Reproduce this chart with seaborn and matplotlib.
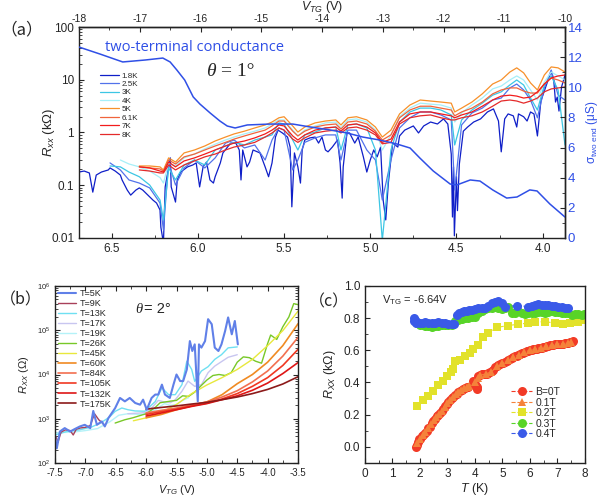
import matplotlib
matplotlib.use("Agg")
import matplotlib.pyplot as plt
import seaborn as sns
from matplotlib.ticker import MultipleLocator, FixedLocator, LogLocator, NullFormatter

# ================= panel (a) data =================
# two-terminal conductance vs top axis V_TG
vtg_top = [-18.0, -17.65, -17.28, -16.91, -16.62, -16.50, -16.39, -16.26, -16.12, -16.01,
           -15.84, -15.68, -15.56, -15.43, -15.23, -14.86, -14.48, -14.20, -13.87, -13.59,
           -13.33, -13.05, -12.77, -12.55, -12.39, -12.17, -11.89, -11.78, -11.56, -11.40,
           -11.19, -10.96, -10.79, -10.58, -10.46, -10.25, -10.0]
sigma_2t = [12.67, 12.2, 11.68, 11.81, 11.94, 11.68, 11.15, 10.48, 9.36, 8.89,
            8.29, 7.76, 7.43, 7.30, 7.50, 7.56, 7.56, 7.37, 7.17, 6.97,
            6.70, 6.50, 6.24, 5.97, 5.31, 4.45, 3.58, 3.52, 3.85, 3.78,
            3.19, 2.65, 2.72, 3.19, 3.12, 2.26, 1.39]

v18 = [6.69, 6.66, 6.63, 6.61, 6.59, 6.56, 6.52, 6.51, 6.48, 6.45,
       6.44, 6.41, 6.39, 6.36, 6.34, 6.32, 6.29, 6.26, 6.24, 6.22,
       6.215, 6.20, 6.19, 6.16, 6.155, 6.13, 6.12, 6.10, 6.06, 6.03,
       6.01, 5.99, 5.97, 5.95, 5.93, 5.91, 5.90, 5.87, 5.855, 5.81,
       5.78, 5.76, 5.75, 5.74, 5.715, 5.70, 5.68, 5.64, 5.61, 5.59,
       5.57, 5.55, 5.535, 5.51, 5.48, 5.465, 5.455, 5.44, 5.42, 5.405,
       5.395, 5.38, 5.35, 5.32, 5.30, 5.28, 5.26, 5.245, 5.22, 5.19,
       5.175, 5.163, 5.157, 5.135, 5.12, 5.09, 5.07, 5.04, 5.02, 5.00,
       4.98, 4.96, 4.94, 4.925, 4.91, 4.895, 4.87, 4.84, 4.83, 4.80,
       4.75, 4.72, 4.69, 4.65, 4.61, 4.575, 4.55, 4.53, 4.523, 4.517,
       4.512, 4.50, 4.494, 4.483, 4.46, 4.435, 4.40, 4.36, 4.32, 4.285,
       4.256, 4.24, 4.22, 4.20, 4.17, 4.15, 4.14, 4.11, 4.09, 4.07,
       4.05, 4.03, 4.01, 3.97, 3.95, 3.935, 3.925, 3.915, 3.905, 3.89, 3.87]
r18 = [0.178, 0.186, 0.171, 0.074, 0.156, 0.178, 0.195, 0.213, 0.186, 0.156,
       0.126, 0.081, 0.065, 0.081, 0.089, 0.081, 0.065, 0.052, 0.046, 0.034,
       0.016, 0.008, 0.093, 0.33, 0.093, 0.048, 0.126, 0.178, 0.223, 0.242,
       0.265, 0.093, 0.223, 0.275, 0.126, 0.11, 0.145, 0.265, 0.41, 0.63,
       0.63, 0.466, 0.126, 0.466, 0.223, 0.275, 0.466, 0.41, 0.223, 0.145,
       0.265, 0.82, 1.11, 0.98, 0.82, 0.53, 0.039, 0.41, 0.223, 0.11,
       0.466, 0.72, 0.79, 0.82, 0.63, 0.82, 0.466, 0.43, 0.53, 0.72,
       0.265, 0.057, 0.223, 0.98, 0.98, 0.63, 0.82, 0.345, 0.178, 0.301,
       0.466, 0.345, 0.53, 0.052, 0.022, 0.11, 0.63, 0.53, 0.86, 1.11,
       1.33, 0.98, 1.33, 1.58, 1.45, 1.81, 1.45, 0.39, 0.025, 0.223,
       0.011, 0.145, 0.033, 0.253, 1.06, 1.27, 1.58, 1.81, 2.45, 2.8,
       1.65, 0.43, 1.81, 2.25, 2.07, 1.27, 2.25, 1.99, 1.65, 2.45,
       2.25, 0.86, 3.95, 9.5, 14.6, 9.5, 3.78, 4.7, 2.55, 7.3, 12.3]

v_warm = [6.34, 6.28, 6.22, 6.20, 6.17, 6.13, 6.08, 6.02, 5.96, 5.90,
          5.84, 5.79, 5.73, 5.67, 5.61, 5.57, 5.53, 5.50, 5.45, 5.42,
          5.38, 5.32, 5.26, 5.20, 5.17, 5.13, 5.08, 5.02, 4.97, 4.93,
          4.88, 4.83, 4.77, 4.71, 4.65, 4.59, 4.53, 4.51, 4.47, 4.41,
          4.35, 4.29, 4.24, 4.19, 4.15, 4.11, 4.07, 4.03, 3.99, 3.95,
          3.91, 3.87]
v_cool_start = [6.51, 6.45, 6.40]
v_4k_start = [6.45, 6.40]

r25 = [0.265, 0.195, 0.126,
       0.11, 0.089, 0.046, 0.0142, 0.275, 0.101, 0.213, 0.301, 0.213, 0.33,
       0.63, 0.72, 0.51, 0.58, 0.301, 0.72, 1.22, 1.11, 0.195, 0.301,
       0.65, 0.79, 0.90, 0.90, 0.301, 1.11, 1.11, 0.466, 0.301, 0.0525,
       0.301, 1.22, 1.90, 2.45, 2.45, 2.15, 1.73, 0.0813, 1.39, 2.35,
       2.9, 4.13, 4.5, 7.0, 8.3, 6.4, 4.13, 1.90, 7.0, 15.3,
       5.1, 4.13]
r3 = [0.232, 0.223, 0.178,
      0.145, 0.101, 0.0525, 0.0219, 0.213, 0.126, 0.242, 0.301, 0.242, 0.466,
      0.555, 0.65, 0.58, 0.72, 0.82, 0.90, 1.52, 1.45, 0.72, 0.466,
      0.90, 1.02, 1.22, 1.27, 0.466, 1.39, 1.45, 1.22, 0.466, 0.009,
      0.466, 1.58, 2.45, 2.9, 2.9, 2.67, 2.15, 0.58, 1.73, 2.67,
      3.6, 5.1, 5.9, 7.95, 9.9, 7.95, 4.5, 2.67, 7.95, 11.8,
      6.4, 0.58]
r4 = [0.301, 0.253,
      0.223, 0.186, 0.14, 0.11, 0.265, 0.232, 0.33, 0.39, 0.49, 0.60,
      0.72, 0.82, 0.94, 1.06, 1.22, 1.45, 1.73, 1.73, 1.11, 0.86,
      1.11, 1.33, 1.52, 1.58, 1.22, 1.73, 1.81, 1.58, 1.11, 0.466,
      0.90, 1.99, 2.9, 3.6, 3.45, 3.32, 2.9, 1.58, 2.35, 3.32,
      4.5, 6.7, 7.6, 9.9, 11.8, 9.9, 6.4, 4.13, 9.0, 14.0,
      11.8, 9.9]
r5 = [0.232, 0.232, 0.223, 0.195, 0.33, 0.275, 0.41, 0.466, 0.555, 0.69,
      0.82, 0.94, 1.06, 1.22, 1.39, 1.58, 1.90, 1.99, 1.33, 1.02,
      1.27, 1.52, 1.65, 1.73, 1.39, 1.90, 1.99, 1.73, 1.27, 0.82,
      1.11, 2.25, 3.32, 4.13, 3.95, 3.78, 3.6, 2.45, 2.9, 3.78,
      5.4, 8.3, 9.9, 14.0, 16.8, 13.5, 8.7, 6.4, 12.3, 17.5,
      16.8, 14.0]
r61 = [0.223, 0.213, 0.204, 0.186, 0.301, 0.253, 0.345, 0.39, 0.466, 0.555,
       0.65, 0.75, 0.86, 0.98, 1.11, 1.33, 1.65, 1.65, 1.06, 0.86,
       1.06, 1.27, 1.39, 1.45, 1.16, 1.58, 1.65, 1.45, 1.06, 0.72,
       0.90, 1.90, 2.67, 3.15, 3.15, 2.9, 2.67, 2.07, 2.45, 2.9,
       3.78, 5.4, 6.4, 7.0, 7.0, 6.1, 5.6, 5.6, 8.3, 10.8,
       9.9, 8.7]
r7 = [0.223, 0.213, 0.186, 0.178, 0.275, 0.223, 0.289, 0.33, 0.39, 0.466,
      0.555, 0.63, 0.69, 0.79, 0.94, 1.11, 1.39, 1.33, 0.86, 0.72,
      0.90, 1.11, 1.22, 1.27, 1.06, 1.39, 1.45, 1.27, 0.98, 0.65,
      0.75, 1.58, 2.25, 2.45, 2.45, 2.25, 2.07, 1.90, 2.15, 2.45,
      3.15, 4.13, 4.9, 5.1, 4.9, 4.5, 4.7, 5.9, 8.3, 10.8,
      11.8, 12.3]
r8 = [0.195, 0.186, 0.171, 0.171, 0.242, 0.195, 0.242, 0.289, 0.345, 0.39,
      0.466, 0.53, 0.58, 0.65, 0.82, 0.98, 1.22, 1.11, 0.75, 0.65,
      0.79, 0.98, 1.06, 1.11, 0.98, 1.22, 1.27, 1.11, 0.90, 0.61,
      0.65, 1.45, 1.90, 2.07, 2.15, 1.90, 1.73, 1.73, 1.90, 2.07,
      2.45, 3.15, 3.95, 4.13, 3.95, 3.6, 3.95, 4.5, 5.9, 6.7,
      7.0, 7.3]

labels_a = ["1.8K", "2.5K", "3K", "4K", "5K", "6.1K", "7K", "8K"]
colors_a = ["#0f1fc8", "#5272ea", "#3cc6e4", "#a6eff8", "#f7902a", "#f0643c", "#f21c1c", "#e42a2a"]
xt_a = [6.5, 6.0, 5.5, 5.0, 4.5, 4.0]
top_ticks = [-18, -17, -16, -15, -14, -13, -12, -11, -10]

# ================= panel (b) data =================
b5_v = [-7.5, -7.47, -7.42, -7.34, -7.25, -7.17, -7.09, -7.01, -6.92, -6.87,
        -6.81, -6.73, -6.68, -6.62, -6.51, -6.43, -6.35, -6.27, -6.18, -6.1,
        -6.05, -5.99, -5.91, -5.85, -5.8, -5.74, -5.69, -5.61, -5.55, -5.5,
        -5.44, -5.39, -5.33, -5.28, -5.24, -5.2, -5.15, -5.13, -5.09, -5.03,
        -4.98, -4.92, -4.87, -4.81, -4.76, -4.7, -4.65, -4.59, -4.54, -4.49]
b5_r = [400, 215, 515, 615, 515, 590, 670, 730, 615, 1500,
        730, 870, 670, 1040, 1740, 2950, 2470, 2950, 2270, 2080,
        2700, 1600, 2950, 3520, 3520, 5900, 3520, 2950, 5900, 10000,
        7100, 7100, 13000, 57000, 34000, 48000, 2470, 48000, 40500, 57000,
        178000, 137000, 40500, 34000, 48000, 96000, 195000, 81000, 162000, 48000]
b9_v = [-7.5, -7.45, -7.4, -7.33, -7.25, -7.2, -7.15, -7.08, -7.0, -6.92, -6.85, -6.78, -6.7]
b9_r = [430, 300, 500, 560, 540, 430, 580, 620, 640, 700, 1300, 950, 760]
b13_v = [-7.5, -7.3, -7.1, -6.9, -6.75, -6.6, -6.51, -6.4, -6.3, -6.18, -6.02, -5.85, -5.74,
         -5.63, -5.52, -5.41, -5.33, -5.25, -5.2, -5.09, -4.98, -4.87, -4.76, -4.65, -4.5]
b13_r = [430, 520, 560, 650, 800, 1100, 1470, 1750, 1600, 1500, 1480, 2450, 5000,
         3500, 3500, 5900, 20000, 13000, 7000, 12000, 15000, 22000, 28000, 40000, 42000]
b17_v = [-6.3, -6.1, -6.0, -5.9, -5.8, -5.7, -5.6, -5.52, -5.41, -5.31, -5.2, -5.09,
         -4.98, -4.87, -4.76, -4.65, -4.5]
b17_r = [1300, 1350, 1400, 1800, 2600, 2400, 2300, 2700, 4200, 7100, 5400, 5900,
         11000, 15500, 19500, 24500, 28000]
b19_v = [-7.5, -7.2, -7.0, -6.8, -6.6, -6.45, -6.3, -6.1, -6.0, -5.85, -5.7, -5.6, -5.5, -5.4, -5.3]
b19_r = [480, 500, 540, 600, 850, 1200, 1300, 1250, 1300, 1600, 2200, 2000, 2100, 2600, 3000]
b26_v = [-6.51, -6.35, -6.22, -6.0, -5.85, -5.77, -5.6, -5.5, -5.4, -5.3,
         -5.2, -5.1, -5.0, -4.9, -4.8, -4.7, -4.6, -4.5, -4.4, -4.3,
         -4.2, -4.1, -4.0, -3.95, -3.85, -3.75, -3.65, -3.57, -3.5]
b26_r = [800, 950, 1050, 1300, 1800, 2300, 2500, 2600, 3300, 3200,
         4000, 5500, 7500, 9500, 10000, 9500, 11000, 19000, 25000, 24000,
         20000, 18000, 50000, 78000, 62000, 120000, 200000, 400000, 380000]
b45_v = [-6.21, -6.0, -5.75, -5.5, -5.25, -5.0, -4.75, -4.5, -4.25, -4.0, -3.75, -3.5]
b45_r = [900, 1050, 1400, 2100, 3700, 5800, 8500, 13000, 22000, 45000, 98000, 270000]
b60_v = [-6.0, -5.75, -5.5, -5.25, -5.0, -4.75, -4.5, -4.25, -4.0, -3.75, -3.5]
b60_r = [1050, 1250, 1600, 1950, 2400, 3500, 6200, 10000, 19000, 45000, 140000]
b_hi_v = [-6.0, -5.75, -5.5, -5.25, -5.0, -4.75, -4.5, -4.25, -4.0, -3.75, -3.5]
b84_r = [1350, 1550, 1750, 2050, 2400, 3100, 4300, 6800, 12000, 26000, 69000]
b105_r = [1250, 1450, 1650, 1950, 2250, 2800, 3700, 5400, 8500, 16000, 37000]
b132_r = [1150, 1350, 1600, 1900, 2200, 2700, 3300, 4400, 6400, 10500, 18600]
b175_r = [1650, 1800, 1950, 2150, 2350, 2700, 3100, 3700, 4600, 6100, 8900]
labels_b = ["T=5K", "T=9K", "T=13K", "T=17K", "T=19K", "T=26K", "T=45K",
            "T=60K", "T=84K", "T=105K", "T=132K", "T=175K"]
colors_b = ["#6080e8", "#a8405a", "#6fe0f2", "#c8c6f0", "#b4f2f8", "#78c828", "#e8e83c",
            "#f08a22", "#f27050", "#f03822", "#de1616", "#8c1a1a"]

# ================= panel (c) data =================
t_0 = [1.86, 1.88, 1.92, 1.96, 2.0, 2.06, 2.12, 2.18, 2.24, 2.3,
       2.36, 2.42, 2.48, 2.55, 2.61, 2.67, 2.73, 2.79, 2.85, 2.91,
       2.97, 3.03, 3.09, 3.15, 3.21, 3.27, 3.33, 3.39, 3.45, 3.52,
       3.58, 3.64, 3.7, 3.76, 3.94, 4.0, 4.03, 4.06, 4.09, 4.12,
       4.18, 4.24, 4.3, 4.36, 4.42, 4.48, 4.55, 4.61, 4.67, 4.73,
       4.79, 4.85, 4.91, 4.97, 5.03, 5.09, 5.15, 5.21, 5.27, 5.33,
       5.39, 5.45, 5.52, 5.58, 5.64, 5.7, 5.76, 5.82, 5.88, 5.94,
       6.0, 6.06, 6.12, 6.18, 6.24, 6.3, 6.36, 6.42, 6.48, 6.55,
       6.61, 6.67, 6.73, 6.79, 6.85, 6.91, 6.97, 7.03, 7.09, 7.15,
       7.21, 7.27, 7.33, 7.39, 7.45, 7.52, 7.58]
r_0 = [0.0, 0.01, 0.03, 0.045, 0.05, 0.065, 0.075, 0.085, 0.1, 0.115,
       0.125, 0.145, 0.16, 0.175, 0.19, 0.2, 0.21, 0.22, 0.235, 0.25,
       0.265, 0.28, 0.29, 0.3, 0.31, 0.32, 0.33, 0.34, 0.345, 0.355,
       0.36, 0.365, 0.37, 0.37, 0.41, 0.39, 0.38, 0.37, 0.36, 0.44,
       0.445, 0.45, 0.45, 0.452, 0.455, 0.458, 0.462, 0.468, 0.48, 0.495,
       0.5, 0.507, 0.512, 0.518, 0.522, 0.528, 0.533, 0.54, 0.546, 0.552,
       0.557, 0.562, 0.566, 0.57, 0.575, 0.58, 0.585, 0.59, 0.593, 0.596,
       0.599, 0.602, 0.605, 0.607, 0.609, 0.612, 0.615, 0.617, 0.62, 0.623,
       0.626, 0.628, 0.63, 0.633, 0.635, 0.637, 0.638, 0.64, 0.641, 0.64,
       0.642, 0.644, 0.645, 0.647, 0.65, 0.652, 0.655]
t_01 = [1.9, 2.0, 2.1, 2.2, 2.3, 2.4, 2.5, 2.6, 2.7, 2.8,
        2.9, 3.0, 3.1, 3.2, 3.3, 3.4, 3.5, 3.6, 3.7, 3.8,
        4.0, 4.1, 4.2, 4.4, 4.6, 4.8, 5.0, 5.2, 5.4, 5.6,
        5.8, 6.0, 6.2, 6.4, 6.6, 6.8, 7.0, 7.2, 7.4, 7.5]
r_01 = [0.02, 0.05, 0.07, 0.09, 0.115, 0.14, 0.165, 0.185, 0.205, 0.222,
        0.248, 0.272, 0.29, 0.308, 0.325, 0.34, 0.352, 0.362, 0.37, 0.38,
        0.40, 0.43, 0.445, 0.453, 0.466, 0.5, 0.52, 0.538, 0.557, 0.572,
        0.588, 0.6, 0.608, 0.617, 0.625, 0.633, 0.639, 0.642, 0.647, 0.652]
t_02 = [1.9, 2.1, 2.3, 2.48, 2.67, 2.85, 2.97, 3.12, 3.21, 3.27,
        3.45, 3.64, 3.82, 3.94, 4.12, 4.30, 4.48, 4.79, 5.21, 5.58,
        5.94, 6.18, 6.55, 6.91, 7.21, 7.45, 7.76, 7.94]
r_02 = [0.252, 0.293, 0.314, 0.345, 0.386, 0.41, 0.438, 0.465, 0.485, 0.531,
        0.541, 0.565, 0.583, 0.607, 0.635, 0.68, 0.71, 0.742, 0.754, 0.762,
        0.77, 0.774, 0.779, 0.768, 0.762, 0.768, 0.774, 0.789]
t_03 = [1.82, 1.9, 2.0, 2.1, 2.2, 2.3, 2.42, 2.55, 2.67, 2.79,
        2.91, 3.03, 3.15, 3.27, 3.39, 3.52, 3.64, 3.76, 3.88, 4.0,
        4.12, 4.24, 4.36, 4.48, 4.61, 4.73, 4.85, 4.97, 5.09, 5.21,
        5.33, 5.45, 5.58, 5.7, 5.82, 5.94, 6.06, 6.18, 6.3, 6.42,
        6.55, 6.67, 6.79, 6.91, 7.03, 7.15, 7.27, 7.39, 7.52, 7.64,
        7.76, 7.88, 7.97]
r_03 = [0.78, 0.77, 0.76, 0.755, 0.75, 0.748, 0.745, 0.748, 0.752, 0.756,
        0.758, 0.758, 0.76, 0.78, 0.79, 0.795, 0.80, 0.80, 0.805, 0.81,
        0.83, 0.845, 0.855, 0.86, 0.865, 0.872, 0.865, 0.855, 0.86, 0.868,
        0.83, 0.83, 0.845, 0.835, 0.825, 0.83, 0.83, 0.835, 0.84, 0.838,
        0.835, 0.84, 0.845, 0.84, 0.838, 0.835, 0.832, 0.83, 0.82, 0.825,
        0.825, 0.82, 0.825]
t_04 = [1.78, 1.8, 1.82, 1.85, 1.9, 2.0, 2.1, 2.18, 2.3, 2.42,
        2.55, 2.67, 2.79, 2.91, 3.03, 3.15, 3.24, 3.33, 3.42, 3.52,
        3.61, 3.7, 3.79, 3.88, 4.0, 4.12, 4.24, 4.36, 4.48, 4.61,
        4.73, 4.85, 4.97, 5.09, 5.52, 5.94, 6.06, 6.18, 6.3, 6.42,
        6.55, 6.67, 6.79, 6.91, 7.03, 7.15, 7.27, 7.39]
r_04 = [0.78, 0.8, 0.79, 0.77, 0.775, 0.768, 0.772, 0.775, 0.77, 0.768,
        0.772, 0.775, 0.77, 0.768, 0.766, 0.764, 0.762, 0.82, 0.835, 0.84,
        0.842, 0.845, 0.848, 0.851, 0.855, 0.862, 0.86, 0.866, 0.875, 0.893,
        0.9, 0.907, 0.893, 0.872, 0.878, 0.872, 0.878, 0.882, 0.886, 0.884,
        0.882, 0.88, 0.878, 0.875, 0.872, 0.87, 0.866, 0.866]

# ================= style =================
sns.set_style("ticks")
plt.rcParams["font.family"] = ["Liberation Sans", "DejaVu Sans"]
plt.rcParams["mathtext.fontset"] = "custom"
plt.rcParams["mathtext.rm"] = "Liberation Sans"
plt.rcParams["mathtext.it"] = "Liberation Sans:italic"
plt.rcParams["mathtext.bf"] = "Liberation Sans:bold"
plt.rcParams["axes.unicode_minus"] = False
plt.rcParams["xtick.direction"] = "in"
plt.rcParams["ytick.direction"] = "in"
plt.rcParams["axes.linewidth"] = 1.0
plt.rcParams["axes.edgecolor"] = "#222222"
plt.rcParams["xtick.major.size"] = 3.5
plt.rcParams["ytick.major.size"] = 3.5
plt.rcParams["xtick.minor.size"] = 2
plt.rcParams["ytick.minor.size"] = 2

fig = plt.figure(figsize=(6.0, 4.98), dpi=100)
W, H = 600.0, 498.0

def rect(l, t, r, b):
    return [l / W, 1 - b / H, (r - l) / W, (b - t) / H]

# ---------------- panel (a) ----------------
axa = fig.add_axes(rect(79, 27, 565, 238))
xs_a = [v18, v_cool_start + v_warm, v_cool_start + v_warm, v_4k_start + v_warm,
        v_warm, v_warm, v_warm, v_warm]
ys_a = [r18, r25, r3, r4, r5, r61, r7, r8]
for xs, ys, lab, col in zip(xs_a, ys_a, labels_a, colors_a):
    sns.lineplot(x=xs, y=ys, ax=axa, color=col, linewidth=0.9, sort=False,
                 estimator=None, label=lab)
axa.set_yscale("log")
axa.set_ylim(0.01, 100)
axa.set_xlim(6.69, 3.87)
axa.set_xticks(xt_a, labels=[f"{v:.1f}" for v in xt_a])
axa.xaxis.set_minor_locator(MultipleLocator(0.25))
axa.yaxis.set_major_locator(FixedLocator([0.01, 0.1, 1, 10, 100]))
axa.set_yticklabels(["0.01", "0.1", "1", "10", "100"])
axa.yaxis.set_minor_locator(LogLocator(base=10, subs=range(2, 10)))
axa.yaxis.set_minor_formatter(NullFormatter())
axa.tick_params(which="both", top=False, right=False, labelsize=8.5)
axa.set_ylabel(r"$R_{xx}$ (k$\Omega$)", fontsize=9.5)
axa.yaxis.set_label_coords(-0.045, 0.5)
axa.set_xlabel("")
axa.legend(loc="upper left", bbox_to_anchor=(0.04, 0.795), fontsize=5.8, frameon=False,
           labelspacing=0.1, handlelength=2.3, handletextpad=0.4, borderpad=0.2,
           borderaxespad=0)

axg = fig.add_axes(rect(79, 27, 565, 238), facecolor="none")
sns.lineplot(x=vtg_top, y=sigma_2t, ax=axg, color="#2f4fe6", linewidth=1.1,
             sort=False, estimator=None)
axg.set_xlim(-18, -10)
axg.set_ylim(0, 14)
axg.xaxis.tick_top()
axg.xaxis.set_label_position("top")
axg.yaxis.tick_right()
axg.yaxis.set_label_position("right")
axg.set_xticks(top_ticks, labels=[str(t) for t in top_ticks])
axg.xaxis.set_minor_locator(MultipleLocator(0.5))
axg.set_yticks(list(range(0, 15, 2)))
axg.yaxis.set_minor_locator(MultipleLocator(1))
axg.tick_params(axis="x", which="both", labelsize=7.5, pad=2)
axg.tick_params(axis="y", which="both", labelsize=9.5, labelcolor="#2f4fe6", pad=2)
axg.spines["left"].set_visible(False)
axg.spines["bottom"].set_visible(False)
axg.set_xlabel(r"$V_{TG}$ (V)", fontsize=9, labelpad=3)
axg.set_ylabel(r"σ$_{\rm two\ end}$ (μS)", fontsize=8.5, color="#2f4fe6", labelpad=1)

axa.text(0.053, 0.905, "two-terminal conductance", transform=axa.transAxes,
         fontsize=10.5, color="#2f4fe6", family="Open Sans", va="center")
axa.text(0.262, 0.79, "θ", transform=axa.transAxes, fontsize=14,
         family="Liberation Serif", style="italic", va="center")
axa.text(0.292, 0.79, "= 1°", transform=axa.transAxes, fontsize=14,
         family="Liberation Serif", va="center")

# ---------------- panel (b) ----------------
axb = fig.add_axes(rect(55, 286, 298, 463))
xs_b = [b5_v, b9_v, b13_v, b17_v, b19_v, b26_v, b45_v, b60_v, b_hi_v, b_hi_v, b_hi_v, b_hi_v]
ys_b = [b5_r, b9_r, b13_r, b17_r, b19_r, b26_r, b45_r, b60_r, b84_r, b105_r, b132_r, b175_r]
lw_b = [1.5, 1.0, 1.0, 1.0, 1.0, 1.0, 1.0, 1.2, 1.2, 1.2, 1.2, 1.2]
order_b = [4, 3, 2, 1, 5, 6, 7, 8, 9, 10, 11, 0]
for i in order_b:
    sns.lineplot(x=xs_b[i], y=ys_b[i], ax=axb, color=colors_b[i], linewidth=lw_b[i],
                 sort=False, estimator=None, label=labels_b[i])
axb.set_yscale("log")
axb.set_ylim(1e2, 1e6)
axb.set_xlim(-7.5, -3.5)
xt_b = [-7.5, -7.0, -6.5, -6.0, -5.5, -5.0, -4.5, -4.0, -3.5]
axb.set_xticks(xt_b, labels=[f"{v:.1f}" for v in xt_b])
axb.xaxis.set_minor_locator(MultipleLocator(0.25))
axb.yaxis.set_major_locator(FixedLocator([1e2, 1e3, 1e4, 1e5, 1e6]))
axb.yaxis.set_minor_locator(LogLocator(base=10, subs=range(2, 10)))
axb.yaxis.set_minor_formatter(NullFormatter())
axb.tick_params(axis="x", labelsize=7)
axb.tick_params(axis="y", labelsize=5.5)
axb.tick_params(which="both", top=True, right=True)
axb.set_xlabel(r"$V_{TG}$ (V)", fontsize=8)
axb.set_ylabel(r"$R_{XX}$ ($\Omega$)", fontsize=8)
h, l = axb.get_legend_handles_labels()
hd = dict(zip(l, h))
axb.legend([hd[k] for k in labels_b], labels_b, loc="upper left", bbox_to_anchor=(0.005, 0.995),
           fontsize=6.5, frameon=False, labelspacing=0.12, handlelength=2.0,
           handletextpad=0.4, borderpad=0.2, borderaxespad=0)
axb.text(0.33, 0.87, "θ", transform=axb.transAxes, fontsize=10.5,
         family="Liberation Serif", style="italic", va="center")
axb.text(0.365, 0.87, "= 2°", transform=axb.transAxes, fontsize=10.5, va="center")

# ---------------- panel (c) ----------------
axc = fig.add_axes(rect(365, 286, 585, 462.7))
sns.lineplot(x=t_0, y=r_0, ax=axc, color="#f23a26", marker="o", markersize=6.5,
             markeredgewidth=0, linestyle="--", linewidth=0.8, sort=False,
             estimator=None, label="B=0T")
sns.lineplot(x=t_01, y=r_01, ax=axc, color="#f5823a", marker="^", markersize=5.5,
             markeredgewidth=0, linestyle="--", linewidth=0.8, sort=False,
             estimator=None, label="0.1T")
sns.lineplot(x=t_02, y=r_02, ax=axc, color="#e2e22a", marker="s", markersize=5.5,
             markeredgewidth=0, linestyle="--", linewidth=0.8, sort=False,
             estimator=None, label="0.2T")
sns.lineplot(x=t_03, y=r_03, ax=axc, color="#58d428", marker="o", markersize=6.5,
             markeredgewidth=0, linestyle="--", linewidth=0.8, sort=False,
             estimator=None, label="0.3T")
sns.lineplot(x=t_04, y=r_04, ax=axc, color="#3a5ae8", marker="o", markersize=6.5,
             markeredgewidth=0, linestyle="--", linewidth=0.8, sort=False,
             estimator=None, label="0.4T")
axc.set_xlim(0, 8)
axc.set_ylim(-0.1, 1.0)
axc.set_xticks(range(0, 9))
yt_c = [0.0, 0.2, 0.4, 0.6, 0.8, 1.0]
axc.set_yticks(yt_c, labels=[f"{v:.1f}" for v in yt_c])
axc.xaxis.set_minor_locator(MultipleLocator(0.5))
axc.yaxis.set_minor_locator(MultipleLocator(0.1))
axc.tick_params(which="both", labelsize=8.5)
axc.set_xlabel(r"$T$ (K)", fontsize=9, labelpad=1)
axc.set_ylabel(r"$R_{XX}$ (k$\Omega$)", fontsize=9)
axc.legend(loc="upper left", bbox_to_anchor=(0.655, 0.44), fontsize=7.5, frameon=False,
           labelspacing=0.05, handlelength=2.0, handletextpad=0.3, borderpad=0.2,
           borderaxespad=0)
axc.text(0.076, 0.92, r"V$_{\rm TG}$ = -6.64V", transform=axc.transAxes, fontsize=8,
         va="center")

# ---------------- panel labels ----------------
cjk = ["Noto Sans CJK SC", "DejaVu Sans"]
fig.text(0 / W, 1 - 30 / H, "（a）", fontsize=12, family=cjk, va="center")
fig.text(0 / W, 1 - 300 / H, "（b）", fontsize=11.5, family=cjk, va="center")
fig.text(309 / W, 1 - 302 / H, "（c）", fontsize=11.5, family=cjk, va="center")

fig.savefig("out.png", dpi=100)
